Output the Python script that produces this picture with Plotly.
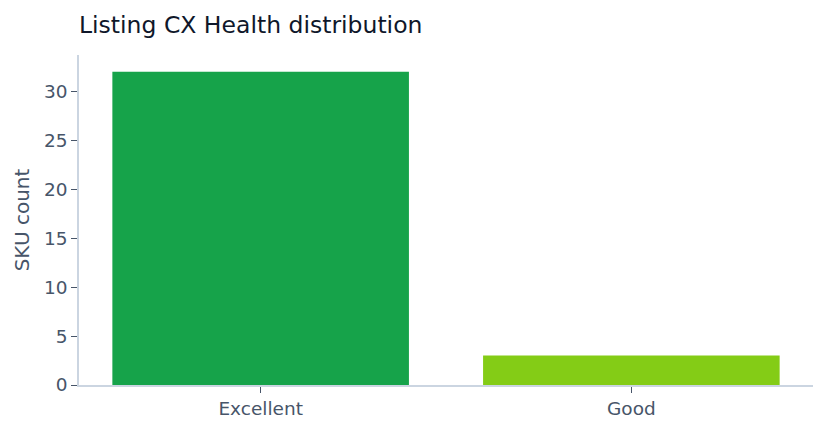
import plotly.graph_objects as go

categories = ["Excellent", "Good"]
counts = [32, 3]
colors = ["#16a34a", "#84cc16"]

fig = go.Figure(go.Bar(x=categories, y=counts, marker=dict(color=colors, line=dict(width=0))))

fig.update_layout(
    width=825, height=431,
    margin=dict(l=79, r=12, t=55, b=46),
    paper_bgcolor="white", plot_bgcolor="white",
    font=dict(family="DejaVu Sans", size=19, color="#475569"),
    title=dict(text="Listing CX Health distribution", x=79/825, xanchor="left",
               y=1 - 25/431, yanchor="middle",
               font=dict(size=23.5, color="#0f172a")),
    bargap=0.2,
    showlegend=False,
)
fig.update_xaxes(showline=True, linecolor="#cbd5e1", linewidth=1.5,
                 ticks="outside", ticklen=6, tickcolor="#475569", showgrid=False,
                 range=[-0.49, 1.49],
                 tickfont=dict(size=18.5, color="#475569"), automargin=False)
fig.update_yaxes(showline=True, linecolor="#cbd5e1", linewidth=1.5,
                 ticks="outside", ticklen=6, tickcolor="#475569", showgrid=False,
                 range=[0, 33.7], dtick=5, zeroline=False, automargin=False,
                 tickfont=dict(size=18.5, color="#475569"),
                 title=dict(text="SKU count", standoff=9, font=dict(size=20, color="#475569")))

fig.write_html("out.html")
